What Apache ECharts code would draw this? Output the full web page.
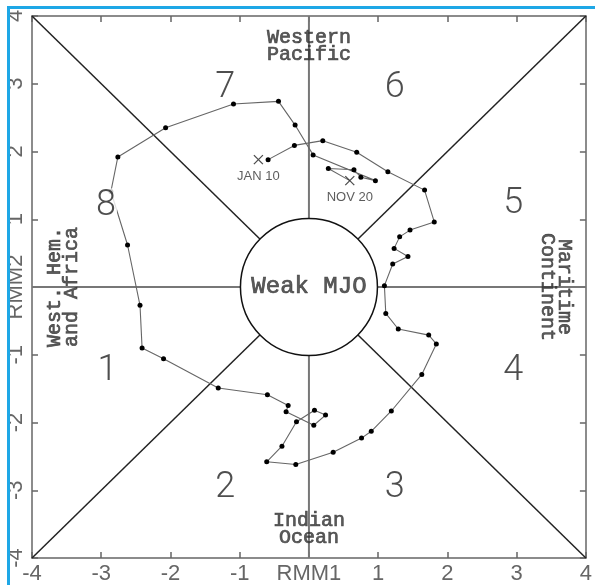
<!DOCTYPE html>
<html>
<head>
<meta charset="utf-8">
<script src="https://cdn.jsdelivr.net/npm/echarts@6/dist/echarts.min.js"></script>
<style>
  html, body { margin: 0; padding: 0; background: #fff; }
  #chart { width: 595px; height: 585px; }
</style>
</head>
<body>
<div id="chart"></div>
<script>
// RMM phase-space track, Nov 20 -> Jan 10
const rmm1 = [0.28, 0.65, 0.75, 0.96, 0.06, -0.20, -0.44, -1.09, -2.07, -2.76, -2.86, -2.62,
  -2.44, -2.41, -2.10, -1.31, -0.60, -0.30, -0.33, 0.07, 0.24, 0.08, -0.18, -0.39, -0.61,
  -0.19, 0.35, 0.76, 0.90, 1.19, 1.63, 1.84, 1.73, 1.29, 1.11, 1.09, 1.21, 1.43, 1.23,
  1.31, 1.46, 1.81, 1.67, 1.14, 0.69, 0.20, -0.21, -0.59];
const rmm2 = [1.75, 1.73, 1.62, 1.57, 1.95, 2.39, 2.74, 2.70, 2.35, 1.92, 1.41, 0.62,
  -0.27, -0.90, -1.06, -1.49, -1.59, -1.75, -1.84, -2.04, -1.89, -1.82, -1.99, -2.35, -2.58,
  -2.62, -2.44, -2.23, -2.13, -1.83, -1.29, -0.84, -0.71, -0.62, -0.39, 0.02, 0.34, 0.45, 0.57,
  0.74, 0.84, 0.96, 1.43, 1.70, 1.99, 2.16, 2.09, 1.88];
const startPoint = [0.59, 1.57];   // NOV 20
const endPoint = [-0.73, 1.88];    // JAN 10
const startLabel = 'NOV 20';
const endLabel = 'JAN 10';

const phaseNames = ['1', '2', '3', '4', '5', '6', '7', '8'];
const phaseX = [-2.91, -1.21, 1.24, 2.95, 2.95, 1.24, -1.21, -2.93];
const phaseY = [-1.24, -2.97, -2.97, -1.24, 1.22, 2.94, 2.94, 1.19];
const regionNames = ['Western\nPacific', 'Indian\nOcean', 'West. Hem.\nand Africa', 'Maritime\nContinent'];
const regionX = [0, 0, -3.55, 3.56];
const regionY = [3.56, -3.57, 0, 0];
const regionRotate = [0, 0, 90, -90];
const circleRadius = 1;

const chart = echarts.init(document.getElementById('chart'));

const tickFont = { fontFamily: 'Liberation Sans', fontSize: 22, color: '#666' };
const slab = { fontFamily: 'Liberation Mono', color: '#333', textBorderColor: '#333', textBorderWidth: 0.7 };

// phase dividing lines: axes through origin and the two diagonals
const dividers = [
  [[-4, 0], [4, 0]],
  [[0, -4], [0, 4]],
  [[-4, -4], [4, 4]],
  [[-4, 4], [4, -4]]
];

let series = dividers.map((seg, i) => ({
  type: 'line',
  data: seg,
  symbol: 'none',
  silent: true,
  z: 1,
  lineStyle: i < 2 ? { color: '#777', width: 2 } : { color: '#222', width: 1.5 }
}));

series.push({
  type: 'custom',
  z: 2,
  silent: true,
  data: [[0, 0]],
  renderItem: function (params, api) {
    let c = api.coord([0, 0]);
    let s = api.size([circleRadius, circleRadius]);
    return {
      type: 'circle',
      shape: { cx: c[0], cy: c[1], r: (s[0] + s[1]) / 2 },
      style: { fill: '#fff', stroke: '#111', lineWidth: 1.5 }
    };
  }
});

let track = [{ value: startPoint, symbol: 'none' }];
rmm1.forEach((x, i) => track.push([x, rmm2[i]]));

series.push({
  type: 'line',
  data: track,
  z: 3,
  symbol: 'circle',
  symbolSize: 5,
  itemStyle: { color: '#000' },
  lineStyle: { color: '#666', width: 1.1 }
});

const crossPath = 'path://M0,0L10,10M10,0L0,10';
series.push({
  type: 'scatter',
  z: 4,
  data: [
    { value: startPoint, name: startLabel },
    { value: endPoint, name: endLabel }
  ],
  symbol: crossPath,
  symbolSize: 9,
  itemStyle: { color: 'none', borderColor: '#222', borderWidth: 1.3 },
  label: {
    show: true,
    position: 'bottom',
    distance: 3,
    formatter: p => p.name,
    fontFamily: 'Liberation Sans',
    fontSize: 13,
    color: '#333'
  }
});

// phase numbers; the 8 sits on top of the track
series.push({
  type: 'scatter',
  z: 5,
  symbolSize: 0,
  data: phaseNames.map((n, i) => ({
    value: [phaseX[i], phaseY[i]],
    name: n,
    label: n === '8' ? { backgroundColor: '#fff', padding: [0, 1] } : {}
  })),
  label: {
    show: true,
    position: 'inside',
    formatter: p => p.name,
    fontFamily: 'Roboto',
    fontWeight: 300,
    fontSize: 36,
    color: '#222'
  }
});

// region names
series.push({
  type: 'scatter',
  z: 5,
  symbolSize: 0,
  data: regionNames.map((n, i) => ({
    value: [regionX[i], regionY[i]],
    name: n,
    label: { rotate: regionRotate[i] }
  })),
  label: Object.assign({
    show: true,
    position: 'inside',
    formatter: p => p.name,
    fontSize: 20,
    lineHeight: 17
  }, slab)
});

series.push({
  type: 'scatter',
  z: 5,
  symbolSize: 0,
  data: [{ value: [0, 0], name: 'Weak MJO' }],
  label: Object.assign({
    show: true,
    position: 'inside',
    formatter: p => p.name,
    fontSize: 24
  }, slab)
});

function axisBase(extra) {
  return Object.assign({
    type: 'value',
    min: -4,
    max: 4,
    interval: 1,
    splitLine: { show: false },
    axisLine: { show: true, onZero: false, lineStyle: { color: '#666', width: 1.5 } },
    axisTick: { show: true, inside: true, length: 6, lineStyle: { color: '#666', width: 1.5 } }
  }, extra);
}

chart.setOption({
  animation: false,
  backgroundColor: '#fff',
  grid: { left: 32, top: 16, right: 7, bottom: 25 },
  xAxis: [
    axisBase({
      position: 'bottom',
      axisLabel: Object.assign({ margin: 5, showMinLabel: true, showMaxLabel: true,
        formatter: v => (v === 0 ? 'RMM1' : String(v)) }, tickFont)
    }),
    axisBase({ position: 'top', axisLabel: { show: false } })
  ],
  yAxis: [
    axisBase({
      position: 'left',
      axisLabel: Object.assign({ margin: 5, rotate: 90, showMinLabel: true, showMaxLabel: true,
        formatter: v => (v === 0 ? 'RMM2' : String(v)) }, tickFont)
    }),
    axisBase({ position: 'right', axisLabel: { show: false } })
  ],
  graphic: [
    { type: 'rect', left: 7, top: 6, shape: { width: 3, height: 580 }, style: { fill: '#1ea7e6' }, z: 100 },
    { type: 'rect', left: 7, top: 6, shape: { width: 590, height: 3 }, style: { fill: '#1ea7e6' }, z: 100 }
  ],
  series: series
});
</script>
</body>
</html>
